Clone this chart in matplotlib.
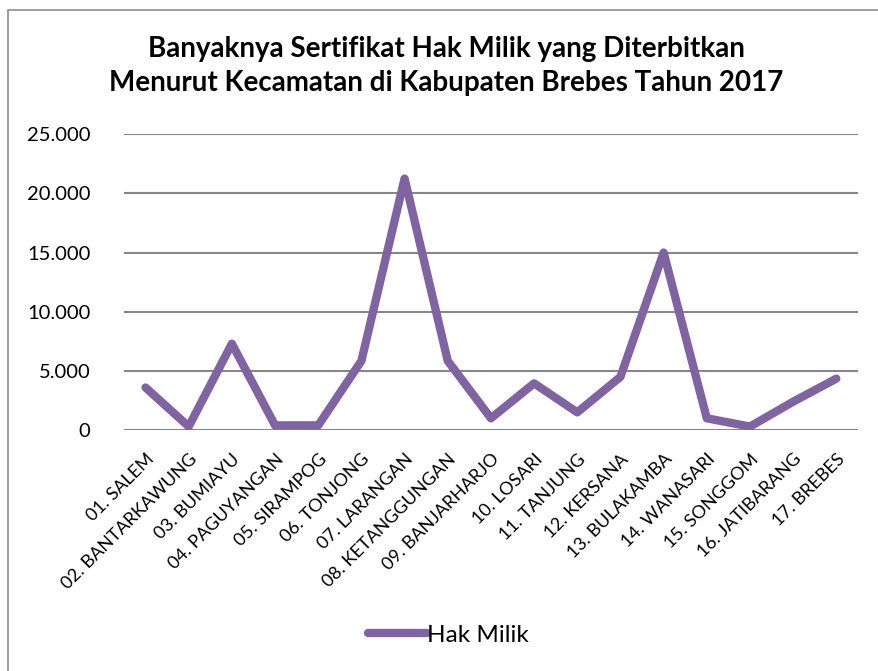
import numpy as np
import matplotlib.pyplot as plt
from matplotlib.patches import Rectangle
from matplotlib.ticker import FuncFormatter

# --- data ---
kecamatan = ['01. SALEM', '02. BANTARKAWUNG', '03. BUMIAYU', '04. PAGUYANGAN',
             '05. SIRAMPOG', '06. TONJONG', '07. LARANGAN', '08. KETANGGUNGAN',
             '09. BANJARHARJO', '10. LOSARI', '11. TANJUNG', '12. KERSANA',
             '13. BULAKAMBA', '14. WANASARI', '15. SONGGOM', '16. JATIBARANG',
             '17. BREBES']
hak_milik = [3600, 300, 7300, 400, 400, 5850, 21250, 5850, 1000, 3950,
             1500, 4500, 15000, 1000, 300, 2400, 4350]
y_ticks = [0, 5000, 10000, 15000, 20000, 25000]

plt.rcParams['font.family'] = ['Lato', 'DejaVu Sans']

fig = plt.figure(figsize=(8.79, 6.71), dpi=100)
fig.patches.append(Rectangle((8 / 879, -0.1), 1.2, 1 - 10 / 671 + 0.1,
                             transform=fig.transFigure, fill=False,
                             edgecolor='#8c8c8c', lw=1.2))

ax = fig.add_axes([0.141, 0.359, 0.835, 0.441])
x = np.arange(len(kecamatan))
ax.plot(x, hak_milik, color='#8064A2', lw=6, solid_capstyle='round',
        solid_joinstyle='round', label='Hak Milik', zorder=3)

ax.set_ylim(0, 25000)
ax.set_xlim(-0.5, len(kecamatan) - 0.5)
ax.set_yticks(y_ticks)
ax.yaxis.set_major_formatter(FuncFormatter(lambda v, p: f'{int(v):,}'.replace(',', '.')))
ax.grid(axis='y', color='#868686', lw=1.5)
ax.set_axisbelow(True)
for s in ax.spines.values():
    s.set_visible(False)
ax.tick_params(axis='both', length=0)
ax.tick_params(axis='y', labelsize=14.5, pad=24)
ax.set_xticks(x)
ax.set_xticklabels(kecamatan, rotation=45, ha='right', rotation_mode='anchor',
                   fontsize=13)
ax.tick_params(axis='x', pad=15)

fig.text(0.508, 1 - 66 / 671, 'Banyaknya Sertifikat Hak Milik yang Diterbitkan\n'
         'Menurut Kecamatan di Kabupaten Brebes Tahun 2017',
         ha='center', va='center', fontsize=20, fontweight='bold',
         linespacing=1.38)

fig.legend(loc='center', bbox_to_anchor=(0.51, 1 - 635 / 671), frameon=False,
           fontsize=17.5, handlelength=2.4, handletextpad=0.0)

plt.savefig('out.png', dpi=100)
